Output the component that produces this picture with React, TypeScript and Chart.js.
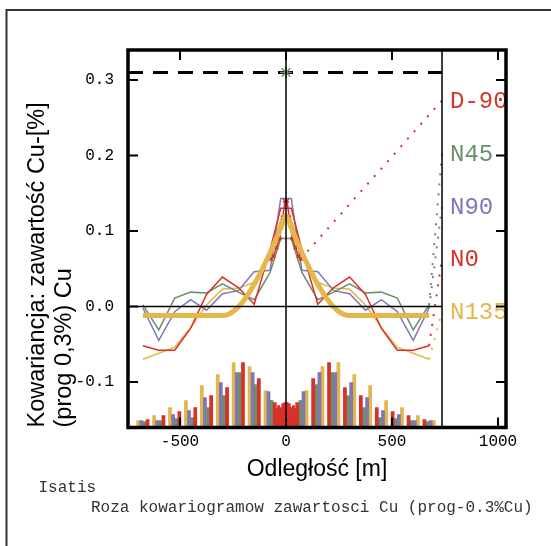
import { useEffect, useRef } from "react";
import { Chart, registerables } from "chart.js";

Chart.register(...registerables);

// ---- data ----
const lagDistances = [25, 75, 150, 225, 300, 375, 450, 525, 600, 675];
const covN0 = [0.13, 0.075, 0.003, 0.025, 0.039, 0.016, -0.029, -0.058, -0.058, -0.052];
const covN45 = [0.09, 0.045, 0.009, 0.019, 0.03, 0.018, 0.019, 0.011, -0.031, 0.002];
const covN90 = [0.143, 0.048, 0.046, 0.021, 0.017, -0.005, 0.009, -0.007, -0.045, -0.002];
const covN135 = [0.115, 0.07, 0.032, 0.024, 0.023, 0.002, -0.028, -0.054, -0.062, -0.07];

const d90Lags = [5, 15, 30, 45, 60, 70];
const covD90 = [0.14, 0.118, 0.09, 0.078, 0.066, 0.063];

// pair-count histograms (one bar per lag and direction)
const histLags = [75, 150, 225, 300, 375, 450, 525, 600, 675];
const pairsN0 = [25, 49, 65, 40, 32, 20, 16, 12, 8];
const pairsN45 = [27, 43, 55, 32, 20, 10, 9, 7, 6];
const pairsN90 = [36, 55, 55, 45, 30, 17, 13, 7, 7];
const pairsN135 = [37, 61, 65, 53, 42, 27, 20, 12, 7];
// mean pair distance of each direction relative to the nominal lag (m)
const meanLagShift = { N0: -22, N45: -7.5, N90: 7.5, N135: 22 };

const d90HistLags = [5, 15, 25, 35, 45, 55, 65, 75, 85];
const pairsD90 = [25, 24, 20, 22, 19, 21, 24, 27, 26];

const modelLags = [25, 50, 75, 100, 125, 150, 175, 200, 225, 250, 275, 300, 675];
const modelCov = [0.1035, 0.0873, 0.0715, 0.0564, 0.0423, 0.0293, 0.0176, 0.0076, -0.0007, -0.0068, -0.0107, -0.012, -0.012];
const modelAtZero = 0.12;

const variance = 0.31;
const maxDistance = 736;
const labelNames = ["D-90", "N45", "N90", "N0", "N135"];
const labelLevels = [0.273, 0.203, 0.133, 0.064, -0.006];

const xTickValues = [-500, 0, 500, 1000];
const yTickValues = [-0.1, 0, 0.1, 0.2, 0.3];

const xMin = -745.3;
const xMax = 1037.7;
const yMin = -0.1603;
const yMax = 0.3397;

const RED = "#D8312A";
const GREEN = "#6A8F6A";
const PURPLE = "#8076B8";
const YELLOW = "#E3B74A";
const labelColors = [RED, GREEN, PURPLE, RED, YELLOW];

const mono = '"Liberation Mono", "DejaVu Sans Mono", monospace';
const sans = '"Liberation Sans", Arial, sans-serif';

function mirror(lags: number[], vals: number[]) {
  const left = lags.map((d, i) => ({ x: -d, y: vals[i] })).reverse();
  const right = lags.map((d, i) => ({ x: d, y: vals[i] }));
  return [...left, ...right];
}

function lastPoint(lags: number[], vals: number[]) {
  return { x: lags[lags.length - 1], y: vals[vals.length - 1] };
}

const decor = {
  id: "decor",
  afterDatasetsDraw(chart: any) {
    const { ctx, chartArea: a, scales } = chart;
    const x = scales.x;
    const y = scales.y;
    const x0 = x.getPixelForValue(0);
    const xm = x.getPixelForValue(maxDistance);
    const y0 = y.getPixelForValue(0);
    ctx.save();
    ctx.strokeStyle = "#000";
    ctx.lineWidth = 1.5;
    ctx.beginPath();
    ctx.moveTo(a.left, y0);
    ctx.lineTo(xm, y0);
    ctx.moveTo(x0, a.top);
    ctx.lineTo(x0, a.bottom);
    ctx.moveTo(xm, a.top);
    ctx.lineTo(xm, a.bottom);
    ctx.stroke();
    ctx.restore();
  },
  afterDraw(chart: any) {
    const { ctx, chartArea: a, scales } = chart;
    const x = scales.x;
    const y = scales.y;
    ctx.save();
    ctx.save();
    ctx.beginPath();
    ctx.rect(a.left, a.top, a.right - a.left, a.bottom - a.top);
    ctx.clip();
    ctx.font = `24px ${mono}`;
    ctx.textBaseline = "alphabetic";
    ctx.textAlign = "left";
    const lx = x.getPixelForValue(maxDistance) + 8;
    labelNames.forEach((name, i) => {
      ctx.fillStyle = labelColors[i];
      ctx.fillText(name, lx, y.getPixelForValue(labelLevels[i]) + 8);
    });
    ctx.restore();

    ctx.strokeStyle = "#000";
    ctx.lineWidth = 2;
    ctx.beginPath();
    x.ticks.forEach((t: any) => {
      const px = x.getPixelForValue(t.value);
      ctx.moveTo(px, a.top);
      ctx.lineTo(px, a.top + 10);
      ctx.moveTo(px, a.bottom);
      ctx.lineTo(px, a.bottom - 10);
    });
    y.ticks.forEach((t: any) => {
      const py = y.getPixelForValue(t.value);
      ctx.moveTo(a.left, py);
      ctx.lineTo(a.left + 10, py);
      ctx.moveTo(a.right, py);
      ctx.lineTo(a.right - 10, py);
    });
    ctx.stroke();

    ctx.lineWidth = 3.5;
    ctx.strokeRect(a.left, a.top, a.right - a.left, a.bottom - a.top);

    ctx.fillStyle = "#333";
    ctx.font = `16px ${mono}`;
    ctx.textBaseline = "alphabetic";
    ctx.fillText("Isatis", 38.5, 492);
    ctx.fillText("Roza kowariogramow zawartosci Cu (prog-0.3%Cu)", 91, 512);

    ctx.strokeStyle = "#333";
    ctx.lineWidth = 2;
    ctx.beginPath();
    ctx.moveTo(6.5, 546);
    ctx.lineTo(6.5, 10);
    ctx.lineTo(551, 10);
    ctx.stroke();
    ctx.restore();
  },
};

export default function App() {
  const ref = useRef<HTMLCanvasElement | null>(null);

  useEffect(() => {
    document.body.style.margin = "0";
    const canvas = ref.current;
    if (!canvas) return;

    const barSet = (data: number[], shift: number, color: string) => ({
      type: "bar" as const,
      xAxisID: "x",
      yAxisID: "yB",
      backgroundColor: color,
      borderWidth: 0,
      barThickness: 3.1,
      grouped: false,
      order: 20,
      data: [
        ...histLags.map((d, i) => ({ x: -(d + shift), y: data[i] })).reverse(),
        ...histLags.map((d, i) => ({ x: d + shift, y: data[i] })),
      ],
    });
    const thin = (vals: number[], color: string) => ({
      type: "line" as const,
      xAxisID: "x",
      yAxisID: "y",
      borderColor: color,
      borderWidth: 1.5,
      pointRadius: 0,
      tension: 0,
      order: 5,
      data: mirror(lagDistances, vals),
    });
    const leader = (from: { x: number; y: number }, level: number, color: string) => ({
      type: "line" as const,
      xAxisID: "x",
      yAxisID: "y",
      borderColor: color,
      borderWidth: 2,
      borderDash: [2, 8],
      borderCapStyle: "butt" as const,
      pointRadius: 0,
      order: 6,
      data: [from, { x: maxDistance, y: level }],
    });

    const modelLeft = modelLags.map((d, i) => ({ x: -d, y: modelCov[i] })).reverse();
    const modelRight = modelLags.map((d, i) => ({ x: d, y: modelCov[i] }));

    const chart = new Chart(canvas, {
      type: "line",
      data: {
        datasets: [
          {
            type: "line",
            label: "model",
            xAxisID: "x",
            yAxisID: "y",
            borderColor: YELLOW,
            borderWidth: 5,
            pointRadius: 0,
            cubicInterpolationMode: "monotone",
            order: 0,
            data: [...modelLeft, { x: 0, y: modelAtZero }, ...modelRight],
          } as any,
          {
            type: "line",
            label: "D-90",
            xAxisID: "x",
            yAxisID: "y",
            borderColor: RED,
            borderWidth: 1.5,
            pointStyle: "crossRot",
            pointRadius: 2.5,
            pointBorderWidth: 1.5,
            pointBorderColor: RED,
            order: 1,
            data: mirror(d90Lags, covD90),
          } as any,
          thin(covN0, RED),
          thin(covN45, GREEN),
          thin(covN90, PURPLE),
          thin(covN135, YELLOW),
          leader(lastPoint(d90Lags, covD90), labelLevels[0], RED),
          leader(lastPoint(lagDistances, covN45), labelLevels[1], GREEN),
          leader(lastPoint(lagDistances, covN90), labelLevels[2], PURPLE),
          leader(lastPoint(lagDistances, covN0), labelLevels[3], RED),
          leader(lastPoint(lagDistances, covN135), labelLevels[4], YELLOW),
          {
            type: "line",
            label: "variance",
            xAxisID: "x",
            yAxisID: "y",
            borderColor: "#000",
            borderWidth: 3,
            borderDash: [15, 10],
            borderCapStyle: "butt",
            pointRadius: 0,
            order: 7,
            data: [
              { x: xMin, y: variance },
              { x: maxDistance, y: variance },
            ],
          } as any,
          {
            type: "line",
            label: "variance point",
            xAxisID: "x",
            yAxisID: "y",
            showLine: false,
            pointStyle: "star",
            pointRadius: 6,
            pointBorderWidth: 1.5,
            pointBorderColor: GREEN,
            pointBackgroundColor: GREEN,
            order: 0,
            data: [{ x: 0, y: variance }],
          } as any,
          barSet(pairsN0, meanLagShift.N0, RED),
          barSet(pairsN45, meanLagShift.N45, GREEN),
          barSet(pairsN90, meanLagShift.N90, PURPLE),
          barSet(pairsN135, meanLagShift.N135, YELLOW),
          {
            type: "bar",
            xAxisID: "x",
            yAxisID: "yB",
            backgroundColor: RED,
            borderWidth: 0,
            barThickness: 2.3,
            grouped: false,
            order: 21,
            data: mirror(d90HistLags, pairsD90),
          } as any,
        ],
      },
      options: {
        animation: false,
        responsive: false,
        devicePixelRatio: 1,
        layout: { padding: { left: 0, right: 45, top: 50, bottom: 62.8 } },
        plugins: { legend: { display: false }, tooltip: { enabled: false } },
        scales: {
          x: {
            type: "linear",
            position: "bottom",
            min: xMin,
            max: xMax,
            offset: false,
            grid: { display: false, drawTicks: false, offset: false },
            border: { display: false },
            afterBuildTicks: (s: any) => {
              s.ticks = xTickValues.map((v) => ({ value: v }));
            },
            ticks: {
              font: { family: mono, size: 16 },
              color: "#000",
              padding: 5,
              maxRotation: 0,
              autoSkip: false,
              callback: (v: any) => String(v),
            },
            title: {
              display: true,
              text: "Odległość [m]",
              font: { family: sans, size: 23, lineHeight: 1.15 },
              color: "#000",
              padding: { top: 0, bottom: 0 },
            },
            afterFit: (s: any) => {
              s.height = 55.7;
            },
          },
          y: {
            type: "linear",
            position: "left",
            min: yMin,
            max: yMax,
            grid: { display: false, drawTicks: false },
            border: { display: false },
            afterBuildTicks: (s: any) => {
              s.ticks = yTickValues.map((v) => ({ value: v }));
            },
            ticks: {
              font: { family: mono, size: 16 },
              color: "#000",
              padding: 14,
              autoSkip: false,
              callback: (v: any) => Number(v).toFixed(1),
            },
            title: {
              display: true,
              text: ["Kowariancja: zawartość Cu-[%]", "(prog 0,3%) Cu"],
              align: "start",
              font: { family: sans, size: 23.5, lineHeight: 1.13 },
              color: "#000",
              padding: { top: 24.5, bottom: 0 },
            },
            afterFit: (s: any) => {
              s.width = 128;
            },
          },
          yB: { type: "linear", display: false, min: 0, max: 377.5 },
        } as any,
      },
      plugins: [decor],
    } as any);

    return () => chart.destroy();
  }, []);

  return <canvas ref={ref} width={551} height={546} style={{ display: "block" }} />;
}
